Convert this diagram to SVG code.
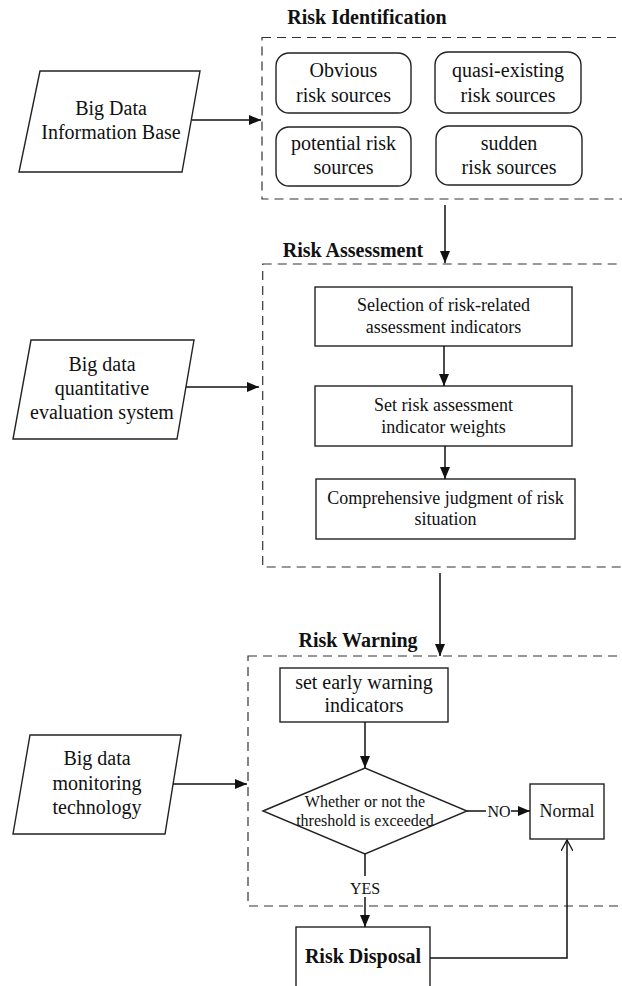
<svg xmlns="http://www.w3.org/2000/svg" width="622" height="986" viewBox="0 0 622 986" font-family="'Liberation Serif', 'Times New Roman', serif">
<defs>
<marker id="arr" markerWidth="12" markerHeight="10" refX="12" refY="5" orient="auto" markerUnits="userSpaceOnUse">
<path d="M0,0 L12,5 L0,10 Z" fill="#111"/>
</marker>
<marker id="open" markerWidth="12" markerHeight="12" refX="11" refY="6" orient="auto" markerUnits="userSpaceOnUse">
<path d="M0,0 L11,6 L0,12" fill="none" stroke="#111" stroke-width="1.3"/>
</marker>
</defs>
<style>
text{fill:#111;text-anchor:middle}
.t20{font-size:20px}
.t18{font-size:18px}
.t16{font-size:16px}
.title{font-size:20px;font-weight:bold}
.dash{fill:none;stroke:#333;stroke-width:1.2;stroke-dasharray:9 6}
.box{fill:#fff;stroke:#222;stroke-width:1.4}
.line{fill:none;stroke:#111;stroke-width:1.5}
</style>
<rect width="622" height="986" fill="#fff"/>

<g id="group-identification">
<rect class="dash" x="262" y="37.5" width="380" height="161.5"/>
<text class="title" x="367" y="24" font-family="Liberation Serif, serif">Risk Identification</text>
</g>
<g id="obvious" font-family="Liberation Serif, serif">
<rect class="box" x="276" y="53" width="135" height="60" rx="13"/>
<text class="t20" x="343.5" y="77">Obvious</text>
<text class="t20" x="343.5" y="102">risk sources</text>
</g>
<g id="quasi" font-family="Liberation Serif, serif">
<rect class="box" x="435" y="52" width="146" height="61" rx="13"/>
<text class="t20" x="508" y="77">quasi-existing</text>
<text class="t20" x="508" y="102">risk sources</text>
</g>
<g id="potential" font-family="Liberation Serif, serif">
<rect class="box" x="276" y="127" width="135" height="59" rx="13"/>
<text class="t20" x="343.5" y="150">potential risk</text>
<text class="t20" x="343.5" y="174">sources</text>
</g>
<g id="sudden" font-family="Liberation Serif, serif">
<rect class="box" x="436" y="126" width="146" height="59" rx="13"/>
<text class="t20" x="509" y="150">sudden</text>
<text class="t20" x="509" y="174">risk sources</text>
</g>

<g id="info-base" font-family="Liberation Serif, serif">
<polygon class="box" points="40,71 200,71 182,172 19,172"/>
<text class="t20" x="111" y="115">Big Data</text>
<text class="t20" x="111" y="139">Information Base</text>
</g>

<g id="group-assessment" font-family="Liberation Serif, serif">
<rect class="dash" x="262.7" y="264" width="380" height="303"/>
<text class="title" x="353" y="257">Risk Assessment</text>
</g>
<g id="selection" font-family="Liberation Serif, serif">
<rect class="box" x="315" y="287" width="257" height="59"/>
<text class="t18" x="443.5" y="311">Selection of risk-related</text>
<text class="t18" x="443.5" y="333">assessment indicators</text>
</g>
<g id="weights" font-family="Liberation Serif, serif">
<rect class="box" x="315" y="386" width="257" height="60"/>
<text class="t18" x="443.5" y="411">Set risk assessment</text>
<text class="t18" x="443.5" y="433">indicator weights</text>
</g>
<g id="judgment" font-family="Liberation Serif, serif">
<rect class="box" x="316" y="479" width="259" height="60"/>
<text class="t18" x="445.5" y="504">Comprehensive judgment of risk</text>
<text class="t18" x="445.5" y="525">situation</text>
</g>

<g id="eval-system" font-family="Liberation Serif, serif">
<polygon class="box" points="31,340 194,340 177,439 13,439"/>
<text class="t20" x="102" y="371">Big data</text>
<text class="t20" x="102" y="395">quantitative</text>
<text class="t20" x="102" y="419">evaluation system</text>
</g>

<g id="group-warning" font-family="Liberation Serif, serif">
<rect class="dash" x="248" y="656" width="390" height="250"/>
<text class="title" x="358" y="647">Risk Warning</text>
</g>
<g id="early-warning" font-family="Liberation Serif, serif">
<rect class="box" x="280" y="668" width="168" height="54"/>
<text class="t20" x="364" y="689">set early warning</text>
<text class="t20" x="364" y="712">indicators</text>
</g>
<g id="threshold" font-family="Liberation Serif, serif">
<polygon class="box" points="263,811 365,768 467,811 365,854"/>
<text class="t16" x="365" y="807">Whether or not the</text>
<text class="t16" x="365" y="826">threshold is exceeded</text>
</g>
<g id="normal" font-family="Liberation Serif, serif">
<rect class="box" x="530" y="784" width="74" height="55"/>
<text class="t18" x="567" y="817">Normal</text>
</g>
<g id="monitoring" font-family="Liberation Serif, serif">
<polygon class="box" points="30,735 181,735 165,834 13,834"/>
<text class="t20" x="97" y="765">Big data</text>
<text class="t20" x="97" y="790">monitoring</text>
<text class="t20" x="97" y="814">technology</text>
</g>
<g id="disposal" font-family="Liberation Serif, serif">
<rect class="box" x="296" y="927" width="134" height="80" stroke-width="2.6"/>
<text class="title" x="363" y="963">Risk Disposal</text>
</g>

<g id="connectors" font-family="Liberation Serif, serif">
<line class="line" x1="192" y1="120" x2="261" y2="120" marker-end="url(#arr)"/>
<line class="line" x1="445" y1="205" x2="445" y2="263" marker-end="url(#arr)"/>
<line class="line" x1="186" y1="387" x2="259" y2="387" marker-end="url(#arr)"/>
<line class="line" x1="444" y1="346" x2="444" y2="386" marker-end="url(#arr)"/>
<line class="line" x1="445" y1="446" x2="445" y2="479" marker-end="url(#arr)"/>
<line class="line" x1="440" y1="573" x2="440" y2="656" marker-end="url(#arr)"/>
<line class="line" x1="173" y1="784" x2="247" y2="784" marker-end="url(#arr)"/>
<line class="line" x1="365" y1="722" x2="365" y2="768" marker-end="url(#arr)"/>
<line class="line" x1="467" y1="811" x2="486" y2="811"/>
<text class="t16" x="499" y="817">NO</text>
<line class="line" x1="511" y1="811" x2="530" y2="811" marker-end="url(#arr)"/>
<line class="line" x1="365" y1="854" x2="365" y2="876"/>
<text class="t16" x="365" y="894">YES</text>
<line class="line" x1="365" y1="897" x2="365" y2="927" marker-end="url(#arr)"/>
<polyline class="line" points="430,958 567,958 567,840" marker-end="url(#open)"/>
</g>
</svg>
